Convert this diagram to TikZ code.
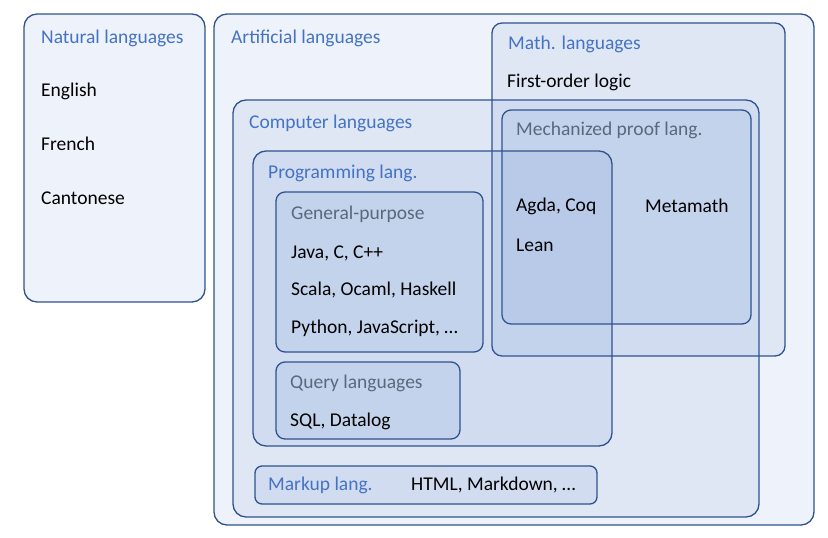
\documentclass[tikz,border=0pt]{standalone}
\usepackage{fontspec}
\setmainfont{Carlito}
\usetikzlibrary{positioning}
\definecolor{boxline}{RGB}{47,82,143}
\definecolor{boxfill}{RGB}{68,114,196}
\definecolor{headblue}{RGB}{68,114,196}
\definecolor{headgray}{RGB}{90,104,124}

\begin{document}
\begin{tikzpicture}[x=1pt, y=-1pt,
    langbox/.style={rectangle, draw=boxline, line width=1.3pt, rounded corners=13pt, fill=boxfill, fill opacity=0.09, inner sep=0pt},
    smallbox/.style={langbox, rounded corners=9pt},
    head/.style={anchor=west, inner sep=0pt, text=headblue, font=\fontsize{19.5}{22}\selectfont},
    subhead/.style={head, text=headgray},
    item/.style={anchor=west, inner sep=0pt, text=black, font=\fontsize{19.5}{22}\selectfont}
]
    \useasboundingbox (0,0) rectangle (828,538);

    % Outer boxes
    \node[langbox, minimum width=600, minimum height=511] (artificial) at (514, 269.5) {};
    \node[langbox, minimum width=181, minimum height=288] (natural) at (114.5, 158) {};

    % Natural languages
    \node[head] (naturalhead) at (41, 38) {Natural languages};
    \node[item] (english) at (41, 91) {English};
    \node[item] (french) at (41, 144) {French};
    \node[item] (cantonese) at (41, 198) {Cantonese};

    % Artificial languages
    \node[head] (artificialhead) at (231, 38) {Artificial languages};

    % Computer and math languages (overlapping)
    \node[langbox, minimum width=526, minimum height=417] (computer) at (496, 308.5) {};
    \node[langbox, rounded corners=10pt, minimum width=293, minimum height=333] (math) at (638.5, 189.5) {};
    \node[head] (computerhead) at (249, 123) {Computer languages};
    \node[head] (mathhead) at (508, 44) {Math. languages};
    \node[item] (fol) at (507, 82) {First-order logic};

    % Mechanized proof languages
    \node[smallbox, minimum width=249, minimum height=214] (mech) at (626.5, 217) {};
    \node[subhead] (mechhead) at (516, 130) {Mechanized proof lang.};

    % Programming languages
    \node[langbox, minimum width=359, minimum height=295] (prog) at (432.5, 298.5) {};
    \node[head] (proghead) at (268, 173) {Programming lang.};

    \node[item] (agda) at (516, 206) {Agda, Coq};
    \node[item] (lean) at (516, 245) {Lean};
    \node[item] (metamath) at (645, 206) {Metamath};

    % General-purpose
    \node[smallbox, minimum width=207, minimum height=160] (general) at (379.5, 272) {};
    \node[subhead] (generalhead) at (291, 214) {General-purpose};
    \node[item] (java) at (291, 253) {Java, C, C++};
    \node[item] (scala) at (291, 290) {Scala, Ocaml, Haskell};
    \node[item] (python) at (291, 328) {Python, JavaScript, \dots};

    % Query languages
    \node[smallbox, minimum width=184, minimum height=77] (query) at (368, 400.5) {};
    \node[subhead] (queryhead) at (290, 383) {Query languages};
    \node[item] (sql) at (290, 421) {SQL, Datalog};

    % Markup languages
    \node[smallbox, rounded corners=7pt, minimum width=342, minimum height=38] (markup) at (426, 485) {};
    \node[head] (markuphead) at (268, 485) {Markup lang.};
    \node[item] (html) at (411, 485) {HTML, Markdown, \dots};
\end{tikzpicture}
\end{document}
